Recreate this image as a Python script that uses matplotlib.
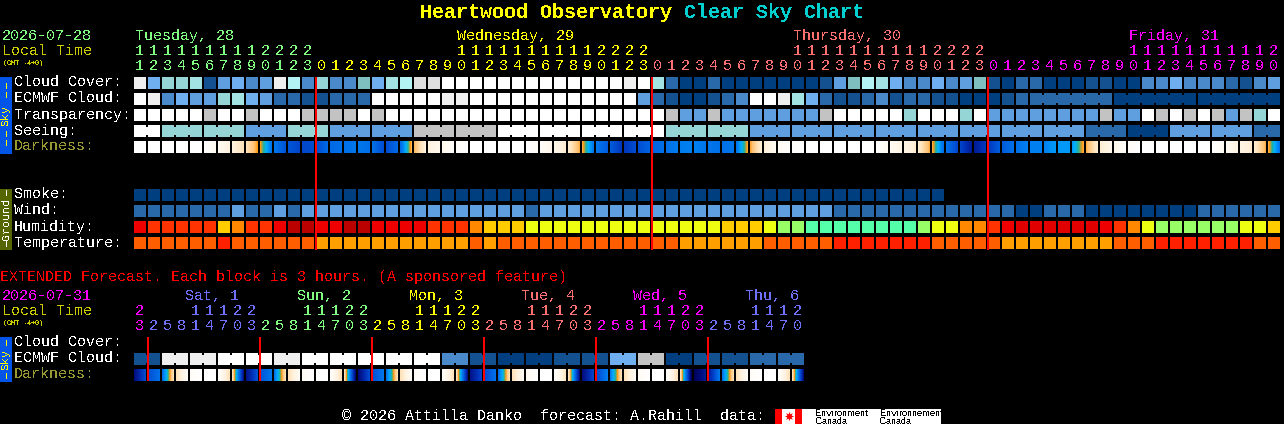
import numpy as np
import matplotlib
matplotlib.use("Agg")
import matplotlib.pyplot as plt
from matplotlib.colors import LinearSegmentedColormap

# ================= DATA ================= #
# cloud style palette, index 0 = darkest
BLUES = ["#003F7F", "#135191", "#2A69A9", "#4A8ACA", "#5F9FDF", "#6FAFEF", "#7FBFBF",
         "#95D5D5", "#A3E3E3", "#B3F3F3", "#C3C3C3", "#DFDFDF", "#EFEFEF", "#FFFFFF"]
HUMID = ["#BB0000", "#E00000", "#EE0000", "#FF3300", "#FF8800", "#FFCC00",
         "#EEFF11", "#99FF66", "#55FFAA"]
TEMPS = ["#FF2000", "#FF5E00", "#FFA000"]

CLOUD = [12, 5, 7, 7, 8, 1, 4, 5, 3, 4, 12, 9, 3,
         7, 3, 3, 6, 5, 8, 9, 11, 11, 13, 13, 13, 13, 13, 13, 13, 13, 13, 13, 13, 13, 13, 12, 13,
         8, 2, 0, 0, 2, 0, 0, 0, 0, 0, 0, 0, 1, 4, 6, 9, 8, 5, 3, 3, 5, 3, 4, 6,
         1, 0, 2, 2, 0, 0, 0, 1, 1, 0, 0, 3, 3, 5, 3, 3, 3, 2, 1, 3, 4]
ECMWF = [13, 12, 3, 5, 4, 4, 7, 8, 5, 4, 2, 2, 1,
         1, 2, 2, 2, 13, 13, 13, 13, 13, 12, 12, 13, 13, 13, 13, 13, 13, 13, 13, 13, 13, 13, 13, 4,
         2, 1, 0, 0, 1, 2, 3, 13, 13, 12, 8, 5, 2, 1, 1, 2, 3, 1, 2, 2, 1, 1, 0, 0,
         0, 1, 2, 2, 2, 2, 2, 2, 2, 0, 0, 0, 0, 0, 0, 0, 0, 0, 0, 0, 0]
TRANSP = [13, 13, 13, 13, 13, 10, 13, 13, 10, 13, 13, 13, 10,
          10, 10, 10, 13, 10, 13, 13, 13, 13, 13, 13, 13, 13, 13, 13, 13, 13, 13, 13, 13, 13, 13, 13, 13,
          13, 10, 4, 4, 10, 4, 4, 4, 4, 4, 4, 4, 10, 13, 13, 13, 13, 13, 7, 13, 13, 13, 7, 13,
          4, 4, 4, 4, 4, 4, 4, 4, 10, 4, 4, 13, 10, 13, 10, 13, 10, 4, 10, 7, 13]
# seeing is given per joined block
SEEING = [13, 7, 7, 4, 7, 4, 4, 10, 10, 13, 13, 13, 13, 7, 7, 4, 4, 4, 4, 4, 4, 4, 4, 2, 0, 4, 4, 2]
SEEING_SPANS = [2] + [3] * 26 + [2]
# ecmwf joined blocks on friday: first column, block lengths
ECMWF_JOIN_START = 64
ECMWF_JOIN_SPANS = [6, 6, 6]

SMOKE = [0] * 58
WIND = [2, 2, 2, 2, 2, 2, 2, 4, 2, 2, 4, 2, 4,
        4, 4, 4, 4, 4, 4, 4, 4, 4, 4, 4, 4, 4, 4, 4, 2, 4, 4, 4, 4, 4, 4, 4, 4,
        4, 4, 4, 4, 4, 4, 4, 4, 4, 4, 4, 4, 4, 2, 2, 2, 2, 2, 2, 2, 2, 2, 2, 2,
        2, 2, 0, 0, 2, 2, 2, 0, 0, 0, 0, 0, 0, 0, 0, 2, 2, 2, 2, 2, 2]
HUMIDITY = [2, 3, 3, 3, 3, 3, 5, 4, 3, 3, 2, 0, 0,
            2, 2, 0, 0, 2, 2, 2, 2, 3, 3, 3, 4, 5, 5, 5, 6, 6, 6, 6, 6, 6, 6, 6, 6,
            6, 6, 6, 6, 6, 5, 5, 5, 6, 7, 7, 8, 8, 8, 8, 8, 8, 8, 8, 7, 6, 6, 4, 4,
            3, 2, 1, 1, 1, 1, 1, 1, 2, 3, 4, 6, 7, 7, 7, 7, 7, 7, 6, 6, 5]
TEMPERATURE = [1, 1, 1, 1, 1, 1, 0, 1, 1, 1, 1, 1, 1,
               2, 2, 2, 2, 2, 2, 2, 2, 2, 2, 2, 1, 2, 1, 1, 1, 1, 1, 1, 1, 1, 1, 1, 1,
               1, 1, 2, 2, 2, 2, 2, 2, 1, 1, 1, 1, 1, 0, 0, 0, 0, 0, 0, 0, 1, 1, 1, 1,
               1, 2, 2, 2, 2, 2, 2, 2, 2, 1, 1, 1, 0, 0, 0, 0, 0, 0, 0, 1, 1]
# darkness at the cell edges, 0 = daylight, 1 = darkest
DARKNESS = [0, 0, 0, 0, 0, 0, .05, .12, .2, .33, .58, .68, .72,
            .7, .62, .6, .58, .6, .7, .62, .3, .12, .07, .02, 0, 0, 0, 0, 0, .03, .08, .15, .31, .58, .66, .76, .7,
            .64, .6, .56, .55, .58, .6, .58, .32, .14, .05, .02, 0, 0, 0, 0, 0, 0, .05, .1, .15, .31, .6, .72, .85,
            .76, .66, .6, .55, .55, .5, .5, .31, .15, .08, .03, 0, 0, 0, 0, 0, 0, .05, .1, .15, .31, .58]

EXT_ECMWF = [1, 12, 12, 13, 13, 12, 13, 13, 13, 13, 13, 3, 1, 0, 0, 1, 1, 5, 10, 0, 1, 1, 2, 2]
EXT_DARKNESS = [.9, .7, .6, .2, .03, 0, 0, .2, .88, .68, .58, .2, .04, 0, 0, .2, .92, .7, .58, .2, .03, 0, 0, .2,
                .88, .72, .6, .2, .05, 0, 0, .18, .9, .72, .56, .2, .04, 0, 0, .2, .98, .85, .58, .2, .03, 0, 0, .2, .9]

GREEN, YELLOW, SALMON, MAGENTA, VIOLET = "#80FF80", "#FFFF00", "#FF7070", "#FF00FF", "#7070FF"

MAIN_HOURS = [list(range(11, 24)), list(range(24)), list(range(24)), list(range(21))]
MAIN_DAYS = ["Tuesday, 28", "Wednesday, 29", "Thursday, 30", "Friday, 31"]
MAIN_COLORS = [GREEN, YELLOW, SALMON, MAGENTA]

EXT_HOURS = [[23]] + [[2, 5, 8, 11, 14, 17, 20, 23]] * 5 + [[2, 5, 8, 11, 14, 17, 20]]
EXT_DAYS = ["", "Sat, 1", "Sun, 2", "Mon, 3", "Tue, 4", "Wed, 5", "Thu, 6"]
EXT_COLORS = [MAGENTA, VIOLET, GREEN, YELLOW, SALMON, MAGENTA, VIOLET]

# ================= LAYOUT ================= #
X0 = 134
STEP = 14
CELL = 12
FONT = "Liberation Mono"
DOLIVE = "#999933"
OLIVE = "#CCCC00"
SKY = "#0055E8"

plt.rcParams["text.antialiased"] = False
plt.rcParams["text.hinting"] = "native"
plt.rcParams["text.hinting_factor"] = 1
plt.rcParams["font.family"] = [FONT, "DejaVu Sans"]

DARK_CMAP = LinearSegmentedColormap.from_list("dark", [
    (0, "#FFFFFF"), (.12, "#FFF3E0"), (.2, "#FFE2B8"), (.29, "#FFC070"), (.33, "#FF9A10"),
    (.4, "#20B0A0"), (.46, "#00B0FF"), (.55, "#0080F0"), (.65, "#0060E0"), (.78, "#0030B8"),
    (.9, "#000E80"), (1, "#000050")])


def px(size):
    return size * 72 / 100


fig = plt.figure(figsize=(12.84, 4.24), dpi=100, facecolor="black")
ax = fig.add_axes([0, 0, 1, 1])
ax.set_xlim(0, 1284)
ax.set_ylim(424, 0)
ax.axis("off")


def label(x, y, s, color="white", size=15, **kw):
    ax.text(x, y, s, color=color, fontsize=px(size), ha=kw.pop("ha", "left"),
            va=kw.pop("va", "baseline"), **kw)


def block(x, y, w, h, color, z=2):
    ax.bar(x, h, width=w, bottom=y, align="edge", color=color, linewidth=0, antialiased=False, zorder=z)


def draw_row(values, palette, y):
    for i, v in enumerate(values):
        block(X0 + STEP * i, y, CELL, CELL, palette[v])


def draw_joined(values, spans, palette, y, start=0):
    col = start
    for v, n in zip(values, spans):
        block(X0 + STEP * col, y, STEP * n - 2, CELL, palette[v])
        # notches between the joined cells
        for k in range(1, n):
            nx = X0 + STEP * (col + k) - 2
            block(nx, y, 2, 2, "black", 3)
            block(nx, y + CELL - 2, 2, 2, "black", 3)
        col += n


def draw_darkness(edges, y):
    for i in range(len(edges) - 1):
        strip = np.linspace(edges[i], edges[i + 1], CELL).reshape(1, -1)
        left = X0 + STEP * i
        ax.imshow(strip, cmap=DARK_CMAP, vmin=0, vmax=1, aspect="auto", interpolation="nearest",
                  extent=(left, left + CELL, y + CELL, y))
    ax.set_xlim(0, 1284)
    ax.set_ylim(424, 0)


def draw_hours(days, y_tens, y_ones):
    col = 0
    for hours, color in days:
        for h in hours:
            cx = X0 + STEP * col + 5.5
            if h >= 10:
                label(cx, y_tens, str(h // 10), color, ha="center")
            label(cx, y_ones, str(h % 10), color, ha="center")
            col += 1


def side_text(y, s, color, size=11):
    ax.text(6, y, s, color=color, fontsize=px(size), rotation=90, ha="center", va="center", zorder=5)


def side_dashes(ys, color):
    for y in ys:
        block(5.5, y, 1, 6, color, 5)


# ================= TITLE ================= #
label(420, 18, "Heartwood Observatory", YELLOW, 20, fontweight="bold")
label(684, 18, "Clear Sky Chart", "#00D0D0", 20, fontweight="bold")

# ================= MAIN CHART ================= #
label(2, 40, "2026-07-28", GREEN)
label(2, 55, "Local Time", OLIVE)
label(3, 65, "(GMT -4+0)", OLIVE, 7.5)

col = 0
for hours, name, color in zip(MAIN_HOURS, MAIN_DAYS, MAIN_COLORS):
    first = col if hours[0] == 11 else col + 10
    label(X0 + STEP * first + 1, 40, name, color)
    col += len(hours)
draw_hours(list(zip(MAIN_HOURS, MAIN_COLORS)), 55, 70)

ROW_Y = [77, 93, 109, 125, 141]
ROW_NAMES = ["Cloud Cover:", "ECMWF Cloud:", "Transparency:", "Seeing:", "Darkness:"]
for y, name in zip(ROW_Y, ROW_NAMES):
    label(14, y + 9.5, name, DOLIVE if name == "Darkness:" else "white")

draw_row(CLOUD, BLUES, ROW_Y[0])
draw_row(ECMWF[:ECMWF_JOIN_START], BLUES, ROW_Y[1])
draw_joined([ECMWF[64], ECMWF[70], ECMWF[76]], ECMWF_JOIN_SPANS, BLUES, ROW_Y[1], ECMWF_JOIN_START)
draw_row(TRANSP, BLUES, ROW_Y[2])
draw_joined(SEEING, SEEING_SPANS, BLUES, ROW_Y[3])
draw_darkness(DARKNESS, ROW_Y[4])

GROUND_Y = [189, 205, 221, 237]
GROUND_NAMES = ["Smoke:", "Wind:", "Humidity:", "Temperature:"]
for y, name in zip(GROUND_Y, GROUND_NAMES):
    label(14, y + 9.5, name)
draw_row(SMOKE, BLUES, GROUND_Y[0])
draw_row(WIND, BLUES, GROUND_Y[1])
draw_row(HUMIDITY, HUMID, GROUND_Y[2])
draw_row(TEMPERATURE, TEMPS, GROUND_Y[3])

block(0, 77, 12, 77, SKY)
side_text(115, "Sky", YELLOW)
side_dashes([83, 92, 131, 140], YELLOW)
block(0, 189, 12, 61, "#556600")
side_text(219, "Ground", "white")
side_dashes([190, 241], "white")

# midnight markers
for day in [13, 37, 61]:
    block(X0 + STEP * day - 1, 77, 2, 173, "red", 4)

# ================= EXTENDED ================= #
label(0, 281, "EXTENDED Forecast. Each block is 3 hours. (A sponsored feature)", "#FF0000")
label(2, 300, "2026-07-31", MAGENTA)
label(2, 315, "Local Time", OLIVE)
label(3, 325, "(GMT -4+0)", OLIVE, 7.5)

col = 0
for hours, name, color in zip(EXT_HOURS, EXT_DAYS, EXT_COLORS):
    if name:
        label(X0 + STEP * (col + 3) - 5, 300, name, color)
    col += len(hours)
draw_hours(list(zip(EXT_HOURS, EXT_COLORS)), 315, 330)

EXT_Y = [337, 353, 369]
for y, name in zip(EXT_Y, ["Cloud Cover:", "ECMWF Cloud:", "Darkness:"]):
    label(14, y + 9.5, name, DOLIVE if name == "Darkness:" else "white")

draw_joined(EXT_ECMWF, [2] * 24, BLUES, EXT_Y[1])
draw_darkness(EXT_DARKNESS, EXT_Y[2])

block(0, 337, 12, 45, SKY)
side_text(360, "Sky", YELLOW)
side_dashes([340, 373], YELLOW)

for k in range(1, 42, 8):
    block(X0 + STEP * k - 1, 337, 2, 44, "red", 4)

# ================= FOOTER ================= #
label(342, 420, "\u00a9 2026 Attilla Danko  forecast: A.Rahill  data:")
block(775, 409, 166, 15, "white")
block(775, 409, 7, 15, "red", 3)
block(795, 409, 7, 15, "red", 3)
ax.scatter([788.5], [416], marker=(8, 1, 0), s=45, color="red", linewidths=0, zorder=4)
for x, word in [(815, "Environment"), (880, "Environnement")]:
    ax.text(x, 416, word, color="black", fontsize=px(9), family="Liberation Sans", va="baseline", zorder=4)
    ax.text(x, 424, "Canada", color="black", fontsize=px(9), family="Liberation Sans", va="baseline", zorder=4)

fig.savefig("out.png", dpi=100, facecolor="black")
